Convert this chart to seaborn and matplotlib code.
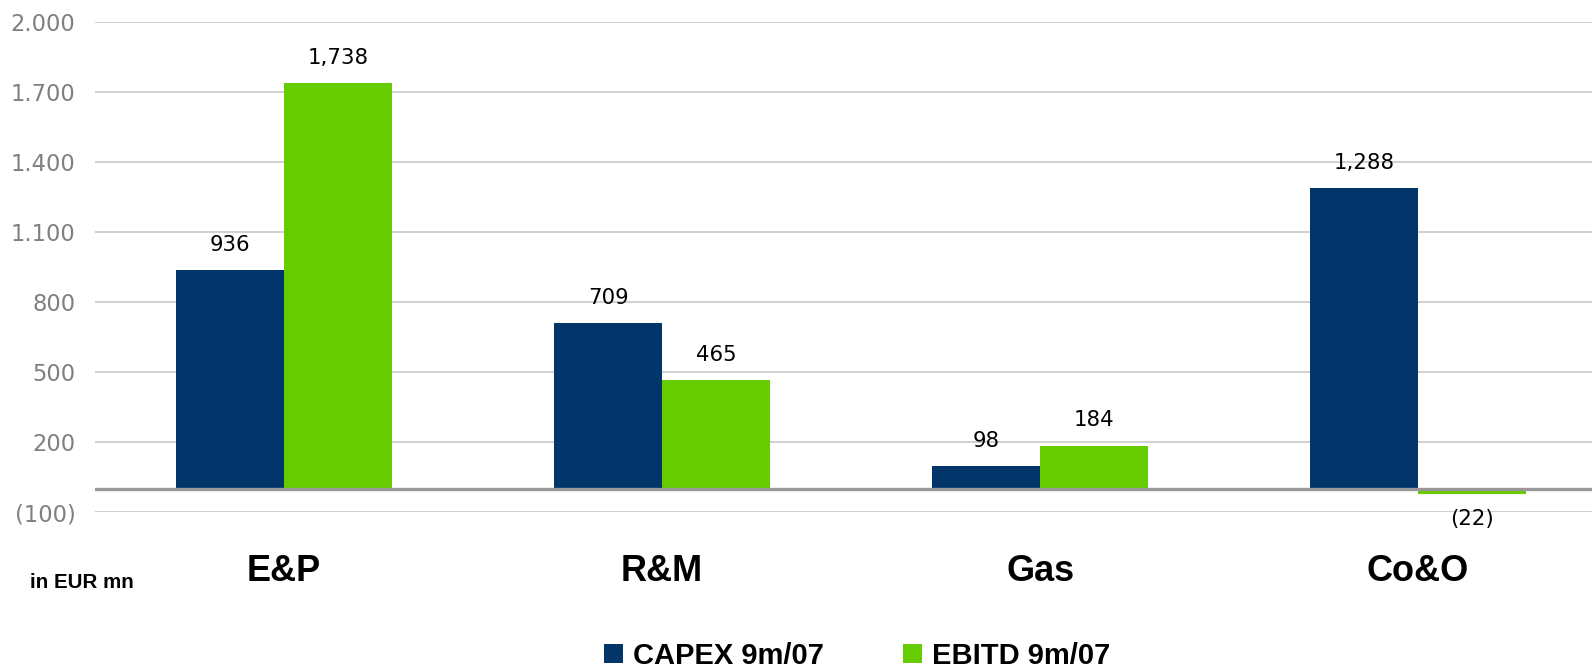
import matplotlib
matplotlib.use("Agg")
import matplotlib.pyplot as plt
import seaborn as sns
import pandas as pd
from matplotlib.patches import Patch

# Segment figures, EUR mn
segments = ["E&P", "R&M", "Gas", "Co&O"]
capex = [936, 709, 98, 1288]
ebitd = [1738, 465, 184, -22]
series_names = ["CAPEX 9m/07", "EBITD 9m/07"]
y_ticks = [-100, 200, 500, 800, 1100, 1400, 1700, 2000]
y_tick_labels = ["(100)", "200", "500", "800", "1.100", "1.400", "1.700", "2.000"]

navy = "#02356A"
green = "#66CC00"

df = pd.DataFrame({
    "segment": segments * 2,
    "series": [series_names[0]] * len(segments) + [series_names[1]] * len(segments),
    "value": capex + ebitd,
})

sns.set_theme(style="white")
plt.rcParams["font.family"] = ["Liberation Sans", "DejaVu Sans"]

W, H = 1592, 668
fig = plt.figure(figsize=(W / 100, H / 100), dpi=100)
ax = fig.add_axes([95 / W, 1 - 512 / H, (W - 95) / W, (512 - 22) / H])

sns.barplot(data=df, x="segment", y="value", hue="series", order=segments,
            hue_order=series_names, palette=[navy, green], width=0.57,
            saturation=1, legend=False, linewidth=0, ax=ax)

ax.set_xlim(-0.5, 3.46)
ax.set_ylim(-100, 2000)
ax.set_yticks(y_ticks)
ax.set_yticklabels(y_tick_labels)
ax.yaxis.grid(True, color="#C8C8C8", linewidth=1.2)
ax.set_axisbelow(True)
ax.axhline(0, color="#999999", linewidth=2.4, zorder=3)
for s in ax.spines.values():
    s.set_visible(False)

ax.tick_params(axis="y", length=0, pad=14)
for lab in ax.get_yticklabels():
    lab.set_fontfamily("DejaVu Sans")
    lab.set_fontsize(16.3)
    lab.set_color("#808080")
ax.tick_params(axis="x", length=0, pad=30)
for lab in ax.get_xticklabels():
    lab.set_fontsize(26)
    lab.set_fontweight("bold")
    lab.set_color("black")
ax.set_xlabel("")
ax.set_ylabel("")


def fmt(v):
    return f"({abs(v):,})" if v < 0 else f"{v:,}"


for cont, vals in zip(ax.containers, [capex, ebitd]):
    ax.bar_label(cont, labels=[fmt(v) for v in vals], padding=11,
                 fontsize=15.3, color="black", family="DejaVu Sans")

fig.text(30 / W, 1 - 583 / H, "in EUR mn", fontsize=14.8, fontweight="bold",
         va="center", ha="left", color="black")

handles = [Patch(facecolor=navy, edgecolor="none"),
           Patch(facecolor=green, edgecolor="none")]
leg = fig.legend(handles, series_names, loc="center", ncol=2,
                 bbox_to_anchor=(857 / W, 1 - 656 / H), frameon=False,
                 prop={"size": 21, "weight": "bold"}, handlelength=0.65,
                 handleheight=0.65, handletextpad=0.34, columnspacing=2.7,
                 borderpad=0)
for t in leg.get_texts():
    t.set_color("black")

fig.savefig("out.png", dpi=100)
